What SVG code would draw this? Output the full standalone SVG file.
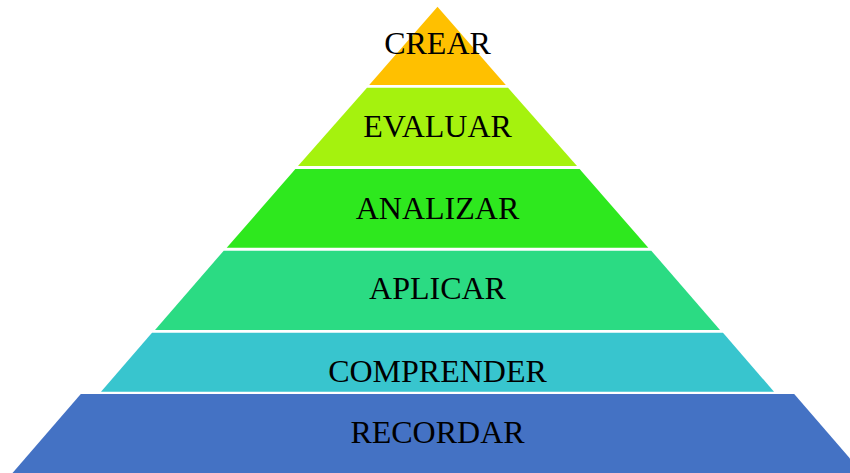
<svg xmlns="http://www.w3.org/2000/svg" width="850" height="473" viewBox="0 0 850 473">
<style>
.lbl{font-family:"Liberation Serif","Times New Roman",serif;font-size:32px;fill:#000;text-anchor:middle}
</style>
<rect width="850" height="473" fill="#fff"/>
<g id="crear">
<polygon points="437.5,6.7 505.8,85 369.2,85" fill="#FFC000"/>
<text class="lbl" x="437.5" y="54">CREAR</text>
</g>
<g id="evaluar">
<polygon points="367,87.7 508,87.7 577,166 298,166" fill="#A5F20E"/>
<text class="lbl" x="437.5" y="136.7">EVALUAR</text>
</g>
<g id="analizar">
<polygon points="295.4,169 579.6,169 648.3,247.7 226.7,247.7" fill="#2EE81E"/>
<text class="lbl" x="437.5" y="219">ANALIZAR</text>
</g>
<g id="aplicar">
<polygon points="223.7,250.7 651.3,250.7 720,330 155,330" fill="#2BDB83"/>
<text class="lbl" x="437.5" y="299.3">APLICAR</text>
</g>
<g id="comprender">
<polygon points="152,332.7 723,332.7 774,391.7 101,391.7" fill="#38C5CE"/>
<text class="lbl" x="437.5" y="381.7">COMPRENDER</text>
</g>
<g id="recordar">
<polygon points="80.8,394 794.2,394 862.5,473 12.5,473" fill="#4472C4"/>
<text class="lbl" x="437.5" y="443.3">RECORDAR</text>
</g>
<g id="connectors"></g>
</svg>
